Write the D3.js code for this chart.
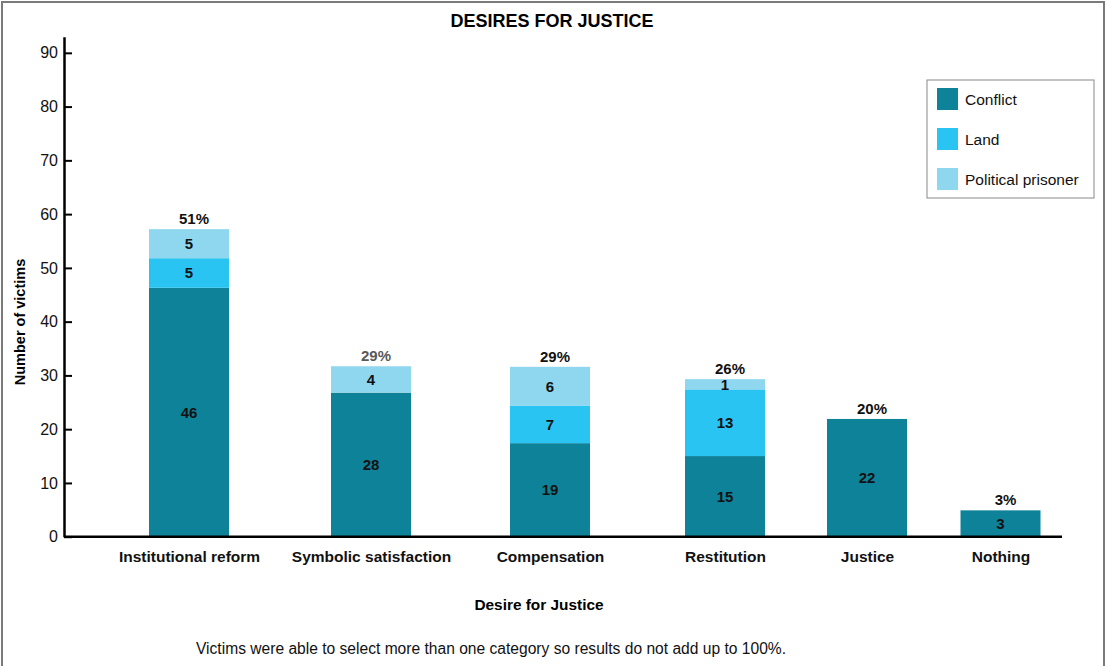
<!DOCTYPE html>
<html>
<head>
<meta charset="utf-8">
<script src="https://cdn.jsdelivr.net/npm/d3@7"></script>
<style>
  body { margin: 0; background: #fff; }
  svg text { font-family: "Liberation Sans", Arial, sans-serif; }
</style>
</head>
<body>
<div id="chartArea"></div>
<script>
// data

const categories = [
  "Institutional reform",
  "Symbolic satisfaction",
  "Compensation",
  "Restitution",
  "Justice",
  "Nothing",
];
const conflict = [46.3, 26.8, 17.4, 15.0, 21.9, 4.9];
const land = [5.5, 0, 7.0, 12.4, 0, 0];
const politicalPrisoner = [5.4, 4.9, 7.2, 1.9, 0, 0];

const conflictLabels = ["46", "28", "19", "15", "22", "3"];
const landLabels = ["5", "", "7", "13", "", ""];
const prisonerLabels = ["5", "4", "6", "1", "", ""];
const percentLabels = ["51%", "29%", "29%", "26%", "20%", "3%"];

const seriesNames = ["Conflict", "Land", "Political prisoner"];
const seriesKeys = ["conflict", "land", "prisoner"];
const yTicks = [0, 10, 20, 30, 40, 50, 60, 70, 80, 90];

// chart

const chart = {};
chart.width = 1107;
chart.height = 666;
chart.colors = d3.scaleOrdinal(seriesKeys, ["#0e8299", "#29c4f2", "#8fd7ee"]);

chart.svg = d3
  .select("#chartArea")
  .append("svg")
  .attr("width", chart.width)
  .attr("height", chart.height);

// frame
chart.svg
  .append("rect")
  .attr("x", 2)
  .attr("y", 2)
  .attr("width", 1102)
  .attr("height", 670)
  .attr("fill", "none")
  .attr("stroke", "#7a7a7a")
  .attr("stroke-width", 2);

chart.svg
  .append("text")
  .attr("x", 552)
  .attr("y", 27)
  .attr("text-anchor", "middle")
  .style("font-size", "18px")
  .style("font-weight", "bold")
  .text("DESIRES FOR JUSTICE");

// scales (bars are not evenly spaced in the original)
var y = d3.scaleLinear([0, 93], [536.7, 36.7]);
var x = d3.scaleOrdinal(categories, [189, 371, 550, 725, 867, 1000.5]);
var barWidth = 80;

// y axis
var yAxis = chart.svg
  .append("g")
  .attr("transform", "translate(64,0)")
  .call(
    d3.axisLeft(y).tickValues(yTicks).tickSize(-8).tickSizeOuter(0).tickPadding(6)
  );
yAxis.select(".domain").attr("stroke", "#000").attr("stroke-width", 2.5);
yAxis.selectAll(".tick line").attr("stroke", "#000").attr("stroke-width", 2);
yAxis
  .selectAll(".tick text")
  .style("font-size", "16px")
  .style("font-family", '"Liberation Sans", Arial, sans-serif')
  .attr("fill", "#111");

chart.svg
  .append("text")
  .attr("transform", "rotate(-90)")
  .attr("x", -322)
  .attr("y", 25)
  .attr("text-anchor", "middle")
  .style("font-size", "14.5px")
  .style("font-weight", "bold")
  .text("Number of victims");

// stacked bars
var table = categories.map((c, i) => ({
  category: c,
  conflict: conflict[i],
  land: land[i],
  prisoner: politicalPrisoner[i],
}));
var labels = {
  conflict: conflictLabels,
  land: landLabels,
  prisoner: prisonerLabels,
};

var stacked = d3.stack().keys(seriesKeys)(table);

var layers = chart.svg
  .append("g")
  .selectAll("g")
  .data(stacked)
  .join("g")
  .attr("fill", (d) => chart.colors(d.key));

layers
  .selectAll("rect")
  .data((d) => d.filter((s) => s[1] - s[0] > 0))
  .join("rect")
  .attr("x", (d) => x(d.data.category) - barWidth / 2)
  .attr("y", (d) => y(d[1]))
  .attr("width", barWidth)
  .attr("height", (d) => y(d[0]) - y(d[1]));

var valueLabels = [];
stacked.forEach((layer) => {
  layer.forEach((s, i) => {
    var t = labels[layer.key][i];
    if (t != "") valueLabels.push({ cat: s.data.category, mid: (s[0] + s[1]) / 2, text: t });
  });
});

chart.svg
  .append("g")
  .selectAll("text")
  .data(valueLabels)
  .join("text")
  .attr("x", (d) => x(d.cat))
  .attr("y", (d) => y(d.mid))
  .attr("dy", "0.36em")
  .attr("text-anchor", "middle")
  .style("font-size", "15px")
  .style("font-weight", "bold")
  .attr("fill", "#111")
  .text((d) => d.text);

// percentages over the bars
chart.svg
  .append("g")
  .selectAll("text")
  .data(table)
  .join("text")
  .attr("x", (d) => x(d.category) + 5)
  .attr("y", (d) => y(d.conflict + d.land + d.prisoner) - 5)
  .attr("text-anchor", "middle")
  .style("font-size", "15px")
  .style("font-weight", "bold")
  .attr("fill", (d, i) => (i == 1 ? "#5a5a5a" : "#111"))
  .text((d, i) => percentLabels[i]);

// x axis
chart.svg
  .append("line")
  .attr("x1", 64)
  .attr("x2", 1062)
  .attr("y1", y(0))
  .attr("y2", y(0))
  .attr("stroke", "#000")
  .attr("stroke-width", 2.5);

var xAxis = chart.svg
  .append("g")
  .attr("transform", "translate(0," + y(0) + ")")
  .call(d3.axisBottom(x).tickSize(0).tickPadding(14));
xAxis.select(".domain").remove();
xAxis
  .selectAll(".tick text")
  .style("font-size", "15.5px")
  .style("font-weight", "bold")
  .style("font-family", '"Liberation Sans", Arial, sans-serif')
  .attr("fill", "#111");

chart.svg
  .append("text")
  .attr("x", 539)
  .attr("y", 610)
  .attr("text-anchor", "middle")
  .style("font-size", "15.4px")
  .style("font-weight", "bold")
  .text("Desire for Justice");

chart.svg
  .append("text")
  .attr("x", 491)
  .attr("y", 654)
  .attr("text-anchor", "middle")
  .style("font-size", "15.6px")
  .attr("fill", "#111")
  .text(
    "Victims were able to select more than one category so results do not add up to 100%."
  );

// legend
var legend = chart.svg.append("g").attr("transform", "translate(927,80)");
legend
  .append("rect")
  .attr("width", 167)
  .attr("height", 118)
  .attr("fill", "#fff")
  .attr("stroke", "#888");

var items = legend
  .selectAll("g")
  .data(seriesKeys)
  .join("g")
  .attr("transform", (d, i) => "translate(10," + (8 + i * 40) + ")");
items
  .append("rect")
  .attr("width", 21)
  .attr("height", 22)
  .attr("fill", (d) => chart.colors(d));
items
  .append("text")
  .attr("x", 28)
  .attr("y", 12)
  .attr("dy", "0.35em")
  .style("font-size", "15.5px")
  .attr("fill", "#111")
  .text((d, i) => seriesNames[i]);
</script>
</body>
</html>
